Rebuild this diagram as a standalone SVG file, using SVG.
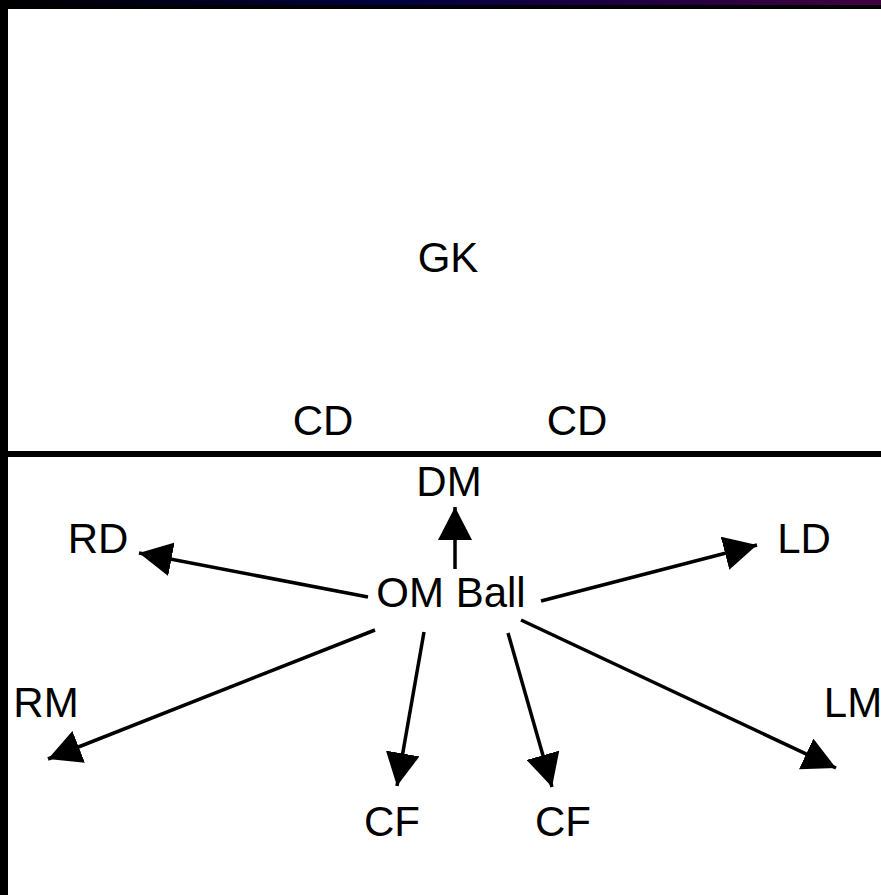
<svg xmlns="http://www.w3.org/2000/svg" width="881" height="895" viewBox="0 0 881 895">
  <style>
    .lbl { font-family: "Liberation Sans", Arial, sans-serif; font-size: 42px; fill: #000; text-anchor: middle; }
    .arr { stroke: #000; stroke-width: 3.5; fill: none; marker-end: url(#head); }
  </style>
  <defs>
    <linearGradient id="topgrad" x1="0" y1="0" x2="1" y2="0">
      <stop offset="0" stop-color="#000000"/>
      <stop offset="0.45" stop-color="#000040"/>
      <stop offset="1" stop-color="#400040"/>
    </linearGradient>
    <marker id="head" markerUnits="userSpaceOnUse" markerWidth="34" markerHeight="34" refX="33" refY="17" orient="auto">
      <path d="M0,0 L33,17 L0,34 Z" fill="#000"/>
    </marker>
  </defs>
  <rect x="0" y="0" width="881" height="895" fill="#fff"/>
  <g id="frame">
    <rect x="0" y="0" width="881" height="5" fill="url(#topgrad)"/>
    <rect x="0" y="5" width="881" height="4" fill="#000"/>
    <rect x="0" y="0" width="8" height="895" fill="#000"/>
    <rect x="0" y="451" width="881" height="6" fill="#000"/>
  </g>
  <g id="connectors">
    <line class="arr" x1="455" y1="569" x2="455" y2="507"/>
    <line class="arr" x1="368" y1="597" x2="139" y2="553"/>
    <line class="arr" x1="541" y1="601" x2="757" y2="545"/>
    <line class="arr" x1="375" y1="630" x2="48" y2="759"/>
    <line class="arr" x1="424" y1="632" x2="397" y2="786"/>
    <line class="arr" x1="508" y1="633" x2="552" y2="787"/>
    <line class="arr" x1="521" y1="620" x2="836" y2="768"/>
  </g>
  <g id="gk"><text class="lbl" x="448" y="272">GK</text></g>
  <g id="cd1"><text class="lbl" x="323" y="435">CD</text></g>
  <g id="cd2"><text class="lbl" x="577" y="435">CD</text></g>
  <g id="dm"><text class="lbl" x="449" y="496">DM</text></g>
  <g id="rd"><text class="lbl" x="98" y="553">RD</text></g>
  <g id="ld"><text class="lbl" x="804" y="553">LD</text></g>
  <g id="om"><text class="lbl" x="451" y="607">OM Ball</text></g>
  <g id="rm"><text class="lbl" x="46" y="717">RM</text></g>
  <g id="lm"><text class="lbl" x="853" y="717">LM</text></g>
  <g id="cf1"><text class="lbl" x="392" y="836">CF</text></g>
  <g id="cf2"><text class="lbl" x="563" y="836">CF</text></g>
</svg>
